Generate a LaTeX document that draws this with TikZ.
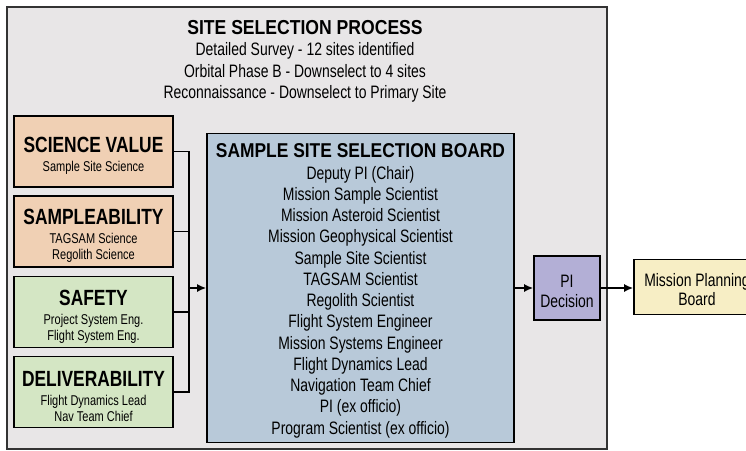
\documentclass[tikz,border=0pt]{standalone}
\usepackage{fontspec}
\setmainfont[FakeStretch=0.775,BoldFeatures={FakeStretch=0.79}]{Liberation Sans}
\newfontfamily\widebold[FakeStretch=0.87]{Liberation Sans}
\usetikzlibrary{positioning,arrows.meta}
\definecolor{panelgray}{RGB}{232,230,231}
\definecolor{boxorange}{RGB}{240,208,180}
\definecolor{boxgreen}{RGB}{212,230,196}
\definecolor{boxblue}{RGB}{184,201,217}
\definecolor{boxpurple}{RGB}{179,175,214}
\definecolor{boxyellow}{RGB}{247,238,197}
\newcommand{\headfont}{\fontsize{22}{24}\selectfont\bfseries\rule{0pt}{24pt}}
\newcommand{\subfont}{\fontsize{14.2}{16}\selectfont}
\newcommand{\bigtitle}[1]{{\widebold\bfseries #1}}

\begin{document}
\begin{tikzpicture}[x=1pt,y=-1pt,
		box/.style={draw, line width=1.6pt, align=center, inner sep=0pt},
		side/.style={box, minimum width=159pt, minimum height=71pt, font=\subfont},
		link/.style={line width=1.6pt},
		tip/.style={link, -{Latex[length=9pt,width=8pt]}}]
		\useasboundingbox (0,0) rectangle (746,450);
		\clip (0,0) rectangle (746,450);
		% panel of the whole process
		\draw[fill=panelgray, draw=black!80, line width=1.3pt] (7,7) rectangle (607,449);
		\node[font=\fontsize{20.2}{22}\selectfont] (title) at (305,28) {\bigtitle{SITE SELECTION PROCESS}};
		\node[align=center, font=\fontsize{18}{21.5}\selectfont] (phases) at (305,72.5) {Detailed Survey - 12 sites identified\\Orbital Phase B - Downselect to 4 sites\\Reconnaissance - Downselect to Primary Site};

		\node[side, fill=boxorange] (science) at (93.5,151.5) {\headfont SCIENCE VALUE\\[3pt]Sample Site Science};
		\node[side, fill=boxorange] (sampleability) at (93.5,231.5) {\headfont SAMPLEABILITY\\[3pt]TAGSAM Science\\Regolith Science};
		\node[side, fill=boxgreen] (safety) at (93.5,312) {\headfont SAFETY\\[3pt]Project System Eng.\\Flight System Eng.};
		\node[side, fill=boxgreen] (deliverability) at (93.5,392) {\headfont DELIVERABILITY\\[3pt]Flight Dynamics Lead\\Nav Team Chief};

		\node[box, fill=boxblue, minimum width=307pt, minimum height=309pt, font=\fontsize{18}{21.25}\selectfont] (board) at (360.5,288) {{\fontsize{20}{21}\selectfont\rule{0pt}{19.5pt}\bigtitle{SAMPLE SITE SELECTION BOARD}}\\Deputy PI (Chair)\\Mission Sample Scientist\\Mission Asteroid Scientist\\Mission Geophysical Scientist\\Sample Site Scientist\\TAGSAM Scientist\\Regolith Scientist\\Flight System Engineer\\Mission Systems Engineer\\Flight Dynamics Lead\\Navigation Team Chief\\PI (ex officio)\\Program Scientist (ex officio)};

		\node[box, fill=boxpurple, minimum width=66pt, minimum height=64pt, font=\fontsize{18}{20}\selectfont] (decision) at (567,288) {\rule{0pt}{19pt}PI\\Decision};
		\node[box, fill=boxyellow, minimum width=126pt, minimum height=55pt, font=\fontsize{18}{19}\selectfont] (planning) at (697,287) {\rule{0pt}{18pt}Mission Planning\\Board};

		% the four criteria join on one bus
		\coordinate (bus) at (189,288);
		\draw[link] (science.east) -| (bus);
		\draw[link] (sampleability.east) -| (bus);
		\draw[link] (safety.east) -| (bus);
		\draw[link] (deliverability.east) -| (bus);
		\draw[tip] (bus) -- (board.west);
		\draw[tip] (board.east) -- (decision.west);
		\draw[tip] (decision.east) -- (decision.east -| planning.west);
\end{tikzpicture}
\end{document}
